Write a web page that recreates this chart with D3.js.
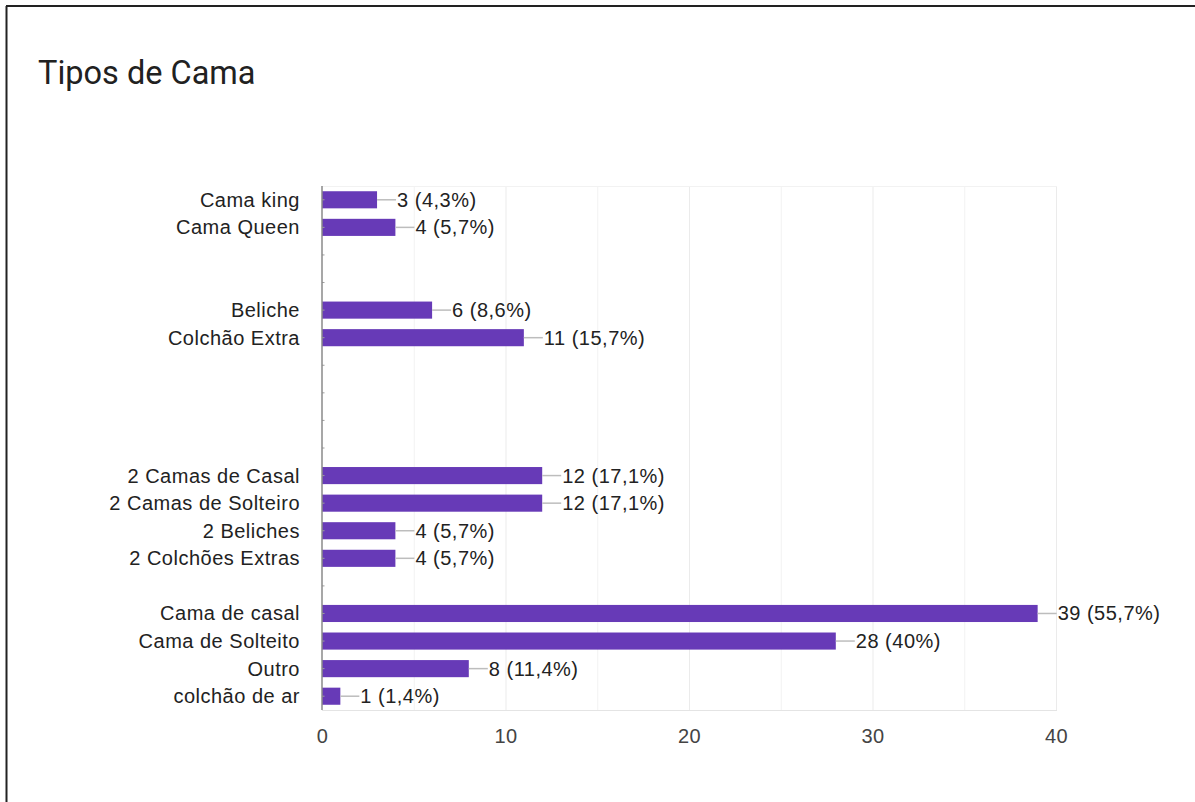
<!DOCTYPE html>
<html>
<head>
<meta charset="utf-8">
<script src="https://cdn.jsdelivr.net/npm/d3@7"></script>
<style>
  html, body { margin: 0; padding: 0; background: #fff; }
  svg { display: block; }
  .lbl { font-family: Arial, "Liberation Sans", sans-serif; font-size: 20px; letter-spacing: 0.5px; }
</style>
</head>
<body>
<svg id="chart" width="1195" height="802"></svg>
<script>
// Bed types: rows with an empty label are blank spacer rows between groups
const categories = [
  "Cama king", "Cama Queen", "", "",
  "Beliche", "Colchão Extra", "", "", "", "",
  "2 Camas de Casal", "2 Camas de Solteiro", "2 Beliches", "2 Colchões Extras", "",
  "Cama de casal", "Cama de Solteito", "Outro", "colchão de ar"
];
const counts = [
  3, 4, null, null,
  6, 11, null, null, null, null,
  12, 12, 4, 4, null,
  39, 28, 8, 1
];
const percents = [
  "4,3%", "5,7%", null, null,
  "8,6%", "15,7%", null, null, null, null,
  "17,1%", "17,1%", "5,7%", "5,7%", null,
  "55,7%", "40%", "11,4%", "1,4%"
];
const xTicks = [0, 10, 20, 30, 40];
const gridMinor = [5, 15, 25, 35];
const title = "Tipos de Cama";

const svg = d3.select("#chart");

// page frame
svg.append("line").attr("x1", 6).attr("x2", 1195).attr("y1", 6).attr("y2", 6)
  .attr("stroke", "#222").attr("stroke-width", 2);
svg.append("line").attr("x1", 6.5).attr("x2", 6.5).attr("y1", 6).attr("y2", 802)
  .attr("stroke", "#222").attr("stroke-width", 2);

svg.append("text")
  .attr("x", 38).attr("y", 84)
  .attr("font-family", "Roboto, 'Open Sans', sans-serif")
  .attr("font-size", 32.5)
  .attr("fill", "#212121")
  .text(title);

const plotL = 322, plotR = 1056, plotT = 186, plotB = 710;

const x = d3.scaleLinear().domain([0, 40]).range([plotL, plotR]);
const y = d3.scaleBand()
  .domain(d3.range(categories.length))
  .range([plotT, plotB])
  .paddingInner(0.38)
  .paddingOuter(0.19);

// grid
const g = svg.append("g");
g.selectAll("line.minor").data(gridMinor).join("line")
  .attr("class", "minor")
  .attr("x1", d => x(d) + 0.5).attr("x2", d => x(d) + 0.5)
  .attr("y1", plotT).attr("y2", plotB)
  .attr("stroke", "#f2f2f2").attr("stroke-width", 1);
g.selectAll("line.major").data(xTicks.slice(1)).join("line")
  .attr("class", "major")
  .attr("x1", d => x(d) + 0.5).attr("x2", d => x(d) + 0.5)
  .attr("y1", plotT).attr("y2", plotB)
  .attr("stroke", "#ebebeb").attr("stroke-width", 1);
g.append("line").attr("x1", plotL).attr("x2", plotR + 1).attr("y1", plotT + 0.5).attr("y2", plotT + 0.5)
  .attr("stroke", "#f2f2f2");
g.append("line").attr("x1", plotL).attr("x2", plotR + 1).attr("y1", plotB + 0.5).attr("y2", plotB + 0.5)
  .attr("stroke", "#e4e4e4");

// x axis labels
const xAxis = d3.axisBottom(x).tickValues(xTicks).tickSize(0).tickPadding(0);
const xa = svg.append("g").attr("transform", `translate(0,${plotB})`).call(xAxis);
xa.select(".domain").remove();
xa.attr("font-family", null).attr("font-size", null);
xa.selectAll("text")
  .attr("class", "lbl")
  .attr("dy", null)
  .attr("y", 33)
  .attr("fill", "#444");

// y axis labels
const yAxis = d3.axisLeft(y).tickFormat(i => categories[i]).tickSize(0).tickPadding(22);
const ya = svg.append("g").attr("transform", `translate(${plotL},0)`).call(yAxis);
ya.select(".domain").remove();
ya.attr("font-family", null).attr("font-size", null);
ya.selectAll("text")
  .attr("class", "lbl")
  .attr("dy", "0.35em")
  .attr("fill", "#222");

// bars
const rows = d3.range(categories.length).filter(i => counts[i] != null);
svg.append("g").selectAll("rect").data(rows).join("rect")
  .attr("x", x(0))
  .attr("y", i => y(i))
  .attr("width", i => x(counts[i]) - x(0))
  .attr("height", y.bandwidth())
  .attr("fill", "#673ab7");

// leader lines and value labels
const ann = svg.append("g");
ann.selectAll("line").data(rows).join("line")
  .attr("x1", i => x(counts[i]))
  .attr("x2", i => x(counts[i]) + 19)
  .attr("y1", i => y(i) + y.bandwidth() / 2)
  .attr("y2", i => y(i) + y.bandwidth() / 2)
  .attr("stroke", "#bdbdbd").attr("stroke-width", 1.5);
ann.selectAll("text").data(rows).join("text")
  .attr("class", "lbl")
  .attr("x", i => x(counts[i]) + 20)
  .attr("y", i => y(i) + y.bandwidth() / 2)
  .attr("dy", "0.35em")
  .attr("fill", "#222")
  .text(i => `${counts[i]} (${percents[i]})`);

// y axis line with small row ticks
svg.append("g").selectAll("line").data(d3.range(categories.length)).join("line")
  .attr("x1", plotL).attr("x2", plotL + 2.5)
  .attr("y1", i => y(i) + y.bandwidth() / 2)
  .attr("y2", i => y(i) + y.bandwidth() / 2)
  .attr("stroke", "#9e9e9e").attr("stroke-width", 1);
svg.append("line").attr("x1", plotL).attr("x2", plotL).attr("y1", plotT).attr("y2", plotB)
  .attr("stroke", "#8a8a8a").attr("stroke-width", 1.5);
</script>
</body>
</html>
